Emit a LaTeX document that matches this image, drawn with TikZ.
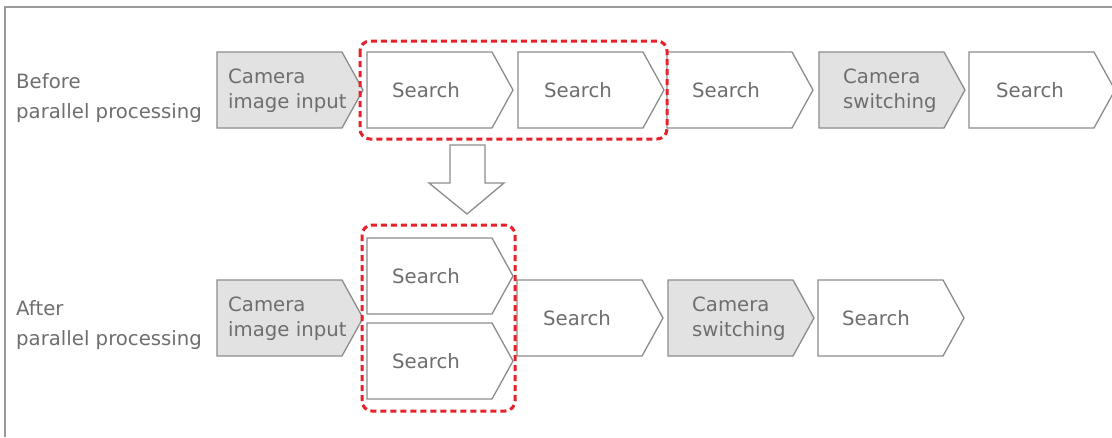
\documentclass[tikz,border=0pt]{standalone}
\usepackage{fontspec}
\setmainfont{DejaVu Sans}
\usetikzlibrary{calc}
\definecolor{txt}{HTML}{6E6E6E}
\definecolor{edge}{HTML}{8C8C8C}
\definecolor{boxgray}{HTML}{E2E2E2}
\definecolor{redd}{HTML}{E8202A}
\definecolor{frame}{HTML}{9A9A9A}
\newcommand{\chev}[3]{% x, y(top), fill
  \draw[chevline, fill=#3] (#1,#2) -- ++(125,0) -- ++(21,38) -- ++(-21,38) -- ++(-125,0) -- cycle;}
\begin{document}
\begin{tikzpicture}[x=1pt, y=-1pt,
  chevline/.style={draw=edge, line width=1.3pt, line join=miter},
  lbl/.style={anchor=west, inner sep=0pt, text=txt, align=left,
    font=\fontsize{19.7}{25}\selectfont},
  side/.style={lbl, font=\fontsize{19.7}{30}\selectfont},
  redbox/.style={draw=redd, line width=3pt, rounded corners=10pt, dash pattern=on 6pt off 4pt},
  bigarrow/.style={draw=edge, line width=1.3pt, fill=white}]
\useasboundingbox (0,0) rectangle (1112,437);
% frame
\draw[frame, line width=1.6pt] (5,437) -- (5,7) -- (1112,7);
% side labels
\node[side] (before) at (16,98) {Before\\parallel processing};
\node[side] (after) at (16,325) {After\\parallel processing};
% row 1
\chev{217}{52}{boxgray}
\chev{367}{52}{white}
\chev{518}{52}{white}
\chev{667}{52}{white}
\chev{819}{52}{boxgray}
\chev{969}{52}{white}
\node[lbl] (cam1) at (228,91) {Camera\\image input};
\node[lbl] (s1) at (392,90) {Search};
\node[lbl] (s2) at (544,90) {Search};
\node[lbl] (s3) at (692,90) {Search};
\node[lbl] (sw1) at (843,91) {Camera\\switching};
\node[lbl] (s4) at (996,90) {Search};
% row 2
\chev{217}{280}{boxgray}
\chev{367}{238}{white}
\chev{367}{323}{white}
\chev{517}{280}{white}
\chev{668}{280}{boxgray}
\chev{818}{280}{white}
\node[lbl] (cam2) at (228,319) {Camera\\image input};
\node[lbl] (s5) at (392,276) {Search};
\node[lbl] (s6) at (392,361) {Search};
\node[lbl] (s7) at (543,318) {Search};
\node[lbl] (sw2) at (692,319) {Camera\\switching};
\node[lbl] (s8) at (842,318) {Search};
% red groups
\draw[redbox] (360,41) rectangle (667,139);
\draw[redbox] (362,225) rectangle (515,411);
% down arrow
\coordinate (ar) at (467,145);
\draw[bigarrow] ($(ar)+(-17,0)$) -- ($(ar)+(18,0)$) -- ($(ar)+(18,38)$) -- ($(ar)+(37,38)$)
  -- ($(ar)+(0,69)$) -- ($(ar)+(-38,38)$) -- ($(ar)+(-17,38)$) -- cycle;
\end{tikzpicture}
\end{document}
